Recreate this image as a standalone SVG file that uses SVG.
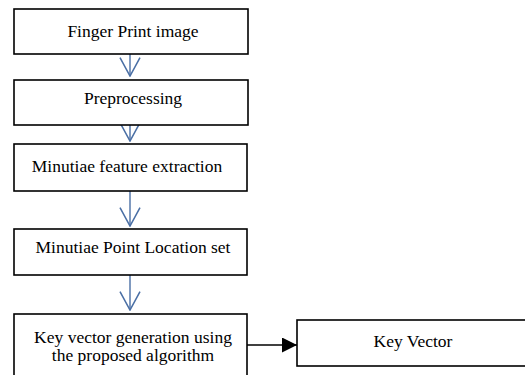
<svg xmlns="http://www.w3.org/2000/svg" width="525" height="375" viewBox="0 0 525 375">
<style>
.box{fill:#fff;stroke:#000;stroke-width:1.6}
.t{font-family:"Liberation Serif","Times New Roman",serif;font-size:17.5px;fill:#000;text-anchor:middle}
.c{stroke:#4a6fa5;stroke-width:1.4;fill:none}
.k{stroke:#000;stroke-width:1.6;fill:none}
</style>
<defs>
<marker id="vee" markerUnits="userSpaceOnUse" markerWidth="20" markerHeight="22" refX="17" refY="9.5" orient="auto" viewBox="0 0 18 19">
<path d="M0.5,0.5 L17,9.5 L0.5,18.5" fill="none" stroke="#4a6fa5" stroke-width="1.4"/>
</marker>
<marker id="tri" markerUnits="userSpaceOnUse" markerWidth="15" markerHeight="15" refX="14" refY="7" orient="auto" viewBox="0 0 14 14">
<path d="M0,0 L14,7 L0,14 Z" fill="#000"/>
</marker>
</defs>
<rect width="525" height="375" fill="#fff"/>
<g id="connectors">
<line class="c" x1="130" y1="54" x2="130" y2="76" marker-end="url(#vee)"/>
<line class="c" x1="130" y1="125" x2="130" y2="141" marker-end="url(#vee)"/>
<line class="c" x1="130" y1="191" x2="130" y2="226" marker-end="url(#vee)"/>
<line class="c" x1="130" y1="275" x2="130" y2="310" marker-end="url(#vee)"/>
<line class="k" x1="247" y1="345" x2="297" y2="345" marker-end="url(#tri)"/>
</g>
<g id="n1"><rect class="box" x="14" y="9" width="234" height="45"/><text class="t" x="133" y="37">Finger Print image</text></g>
<g id="n2"><rect class="box" x="14" y="80" width="234" height="45"/><text class="t" x="133" y="103.5">Preprocessing</text></g>
<g id="n3"><rect class="box" x="14" y="144" width="233" height="47"/><text class="t" x="127" y="172">Minutiae feature extraction</text></g>
<g id="n4"><rect class="box" x="14" y="229" width="233" height="46"/><text class="t" x="133" y="253">Minutiae Point Location set</text></g>
<g id="n5"><rect class="box" x="14" y="314" width="233" height="70"/><text class="t" x="133" y="343">Key vector generation using</text><text class="t" x="133" y="361">the proposed algorithm</text></g>
<g id="n6"><rect class="box" x="297" y="320" width="240" height="46"/><text class="t" x="413" y="347">Key Vector</text></g>
</svg>
